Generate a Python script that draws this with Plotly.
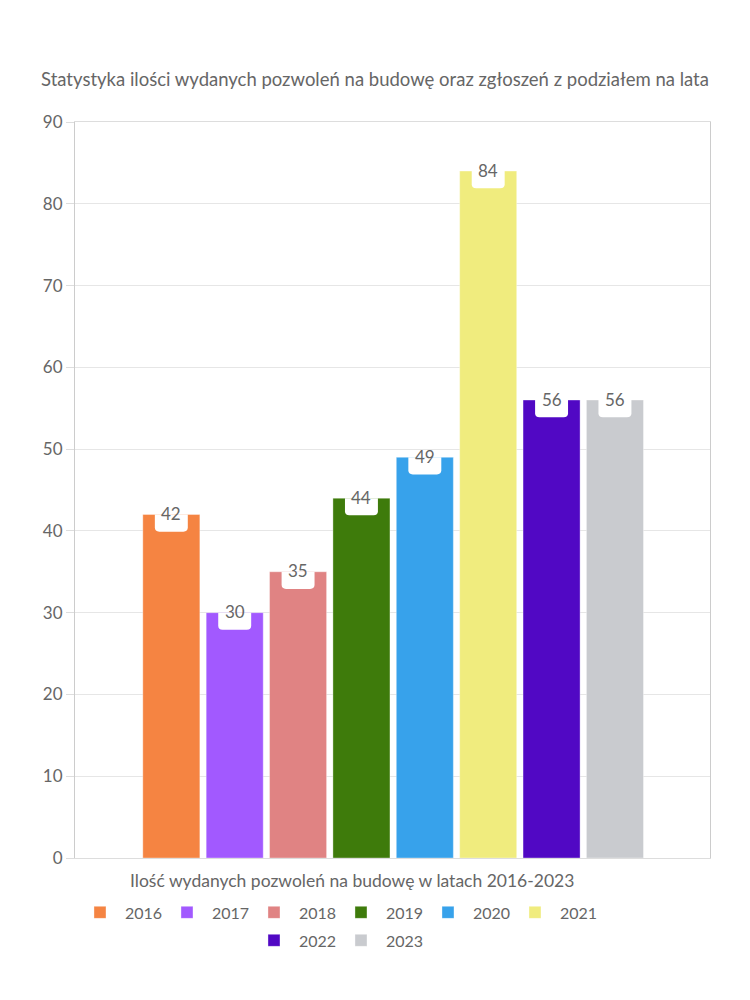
import plotly.graph_objects as go

years = ["2016", "2017", "2018", "2019", "2020", "2021", "2022", "2023"]
values = [42, 30, 35, 44, 49, 84, 56, 56]
colors = ["#F58442", "#A259FF", "#E08383", "#3E7B0B", "#37A2EB", "#F0EC7E", "#5108C4", "#C9CBCF"]
title_text = "Statystyka ilości wydanych pozwoleń na budowę oraz zgłoszeń z podziałem na lata"
x_title = "Ilość wydanych pozwoleń na budowę w latach 2016-2023"
y_ticks = [0, 10, 20, 30, 40, 50, 60, 70, 80, 90]

FONT = "Lato"
GREY = "#666666"

fig = go.Figure()
for i, (yr, v, c) in enumerate(zip(years, values, colors)):
    fig.add_trace(go.Bar(
        x=[i], y=[v], name=yr, width=0.9,
        marker=dict(color=c, line=dict(color="rgba(255,255,255,0.35)", width=1)),
        hoverinfo="name+y",
        legend="legend" if i < 6 else "legend2",
    ))

shapes = []
annotations = []
hw, h, rx, ry = 0.26, 2.1, 0.07, 0.5
for i, v in enumerate(values):
    x0, x1, y0, y1 = i - hw, i + hw, v - h, v
    path = (f"M{x0},{y1} L{x0},{y0 + ry} Q{x0},{y0} {x0 + rx},{y0} "
            f"L{x1 - rx},{y0} Q{x1},{y0} {x1},{y0 + ry} L{x1},{y1} Z")
    shapes.append(dict(type="path", xref="x", yref="y", path=path,
                       fillcolor="white", line=dict(width=0), layer="above"))
    annotations.append(dict(x=i, y=v, xref="x", yref="y", text=str(v),
                            showarrow=False, yanchor="middle", yshift=1,
                            font=dict(family=FONT, size=17, color=GREY)))

annotations.append(dict(x=0.436, y=-0.03, xref="paper", yref="paper", text=x_title,
                        showarrow=False, xanchor="center", yanchor="middle",
                        font=dict(family=FONT, size=17.5, color=GREY)))

leg_common = dict(orientation="h", xanchor="center", yanchor="middle",
                  font=dict(family=FONT, size=16, color=GREY),
                  entrywidth=32, itemwidth=40, traceorder="normal")

fig.update_layout(
    width=750, height=1000,
    paper_bgcolor="white", plot_bgcolor="white",
    margin=dict(l=75, r=40, t=122, b=142),
    title=dict(text=title_text, x=0.5, xanchor="center", y=1 - 80 / 1000, yanchor="middle",
               font=dict(family=FONT, size=18.5, color=GREY)),
    font=dict(family=FONT, color=GREY),
    showlegend=True,
    legend=dict(x=0.411, y=-0.074, **leg_common),
    legend2=dict(x=0.411, y=-0.112, **leg_common),
    shapes=shapes,
    annotations=annotations,
    bargap=0.1,
)
fig.update_xaxes(range=[-1.52, 8.5], showticklabels=False, showgrid=False, zeroline=False,
                 showline=True, linecolor="#dddddd", mirror=True)
fig.update_yaxes(range=[0, 90], tickvals=y_ticks, showgrid=True, gridcolor="#e6e6e6",
                 zeroline=False, showline=True, linecolor="#cccccc", mirror=True,
                 ticks="outside", ticklen=8, tickcolor="#dddddd",
                 tickfont=dict(family=FONT, size=17, color=GREY))

fig.write_html("out.html")
